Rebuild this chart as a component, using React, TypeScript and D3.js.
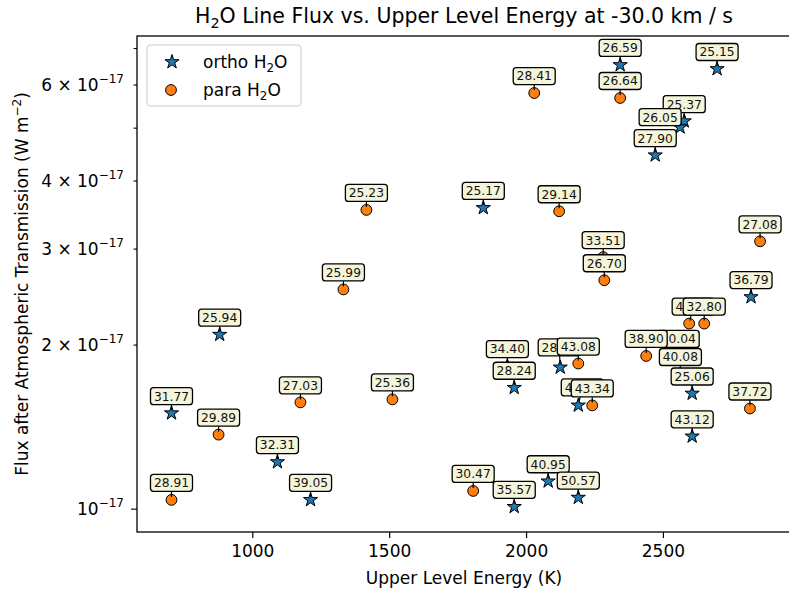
import * as d3 from 'd3';

// ortho H2O lines
const ORTHO_LABEL = ['31.77', '25.94', '32.31', '39.05', '25.17', '28.24', '34.40', '35.57', '40.95', '28.53', '41.62', '50.57', '26.59', '25.15', '27.90', '25.37', '26.05', '36.79', '30.04', '40.08', '25.06', '43.12'];
const ORTHO_E = [703, 879, 1090, 1211, 1842, 1955, 1930, 1955, 2079, 2123, 2189, 2189, 2342, 2696, 2470, 2576, 2561, 2820, 2554, 2562, 2605, 2605];
const ORTHO_FLUX = [1.50, 2.09, 1.22, 1.04, 3.57, 1.67, 1.83, 1.01, 1.125, 1.82, 1.55, 1.05, 6.53, 6.42, 4.46, 5.15, 5.02, 2.45, 1.91, 1.77, 1.63, 1.36];

// para H2O lines
const PARA_LABEL = ['28.91', '29.89', '27.03', '25.99', '25.23', '25.36', '30.47', '28.41', '29.14', '43.08', '43.34', '33.51', '26.70', '26.64', '38.90', '42.17', '32.80', '37.72', '27.08'];
const PARA_E = [703, 875, 1174, 1331, 1415, 1510, 1805, 2028, 2119, 2189, 2240, 2280, 2284, 2342, 2437, 2594, 2649, 2816, 2853];
const PARA_FLUX = [1.04, 1.37, 1.57, 2.53, 3.54, 1.59, 1.08, 5.80, 3.52, 1.85, 1.55, 2.90, 2.63, 5.68, 1.91, 2.19, 2.19, 1.53, 3.10];

const FLUX_UNIT = 1e-17;
const X_TICKS = [1000, 1500, 2000, 2500];
const Y_TICKS = [1, 2, 3, 4, 5, 6, 7];
const Y_TICK_LABELS: Record<number, string> = { 1: '', 2: '2', 3: '3', 4: '4', 6: '6' };

// label boxes that were pushed aside to avoid overlaps
const LABEL_NUDGE: Record<string, [number, number]> = {
  '26.05': [-20, -10],
  '28.53': [-1, -20],
  '41.62': [4, -18],
  '42.17': [4, -17],
};

const W = 789;
const H = 591;
const M = { left: 137, right: 791, top: 36, bottom: 532 };
const FONT = '"DejaVu Sans", sans-serif';
const BLUE = '#1f77b4';
const ORANGE = '#ff7f0e';

const x = d3.scaleLinear().domain([577, 2966]).range([M.left, M.right]);
const y = d3.scaleLog().domain([0.908 * FLUX_UNIT, 7.38 * FLUX_UNIT]).range([M.bottom, M.top]);
const star = d3.symbol(d3.symbolStar, 62)() as string;

type Pt = { label: string; e: number; f: number; kind: 'ortho' | 'para' };

const ortho: Pt[] = ORTHO_LABEL.map((label, i) => ({ label, e: ORTHO_E[i], f: ORTHO_FLUX[i] * FLUX_UNIT, kind: 'ortho' }));
const para: Pt[] = PARA_LABEL.map((label, i) => ({ label, e: PARA_E[i], f: PARA_FLUX[i] * FLUX_UNIT, kind: 'para' }));
const all = [...ortho, ...para];

function Marker({ kind, cx, cy }: { kind: string; cx: number; cy: number }) {
  if (kind === 'ortho') {
    return <path d={star} transform={`translate(${cx},${cy})`} fill={BLUE} stroke="#000" strokeWidth={1} />;
  }
  return <circle cx={cx} cy={cy} r={5.4} fill={ORANGE} stroke="#000" strokeWidth={1} />;
}

function H2O({ size }: { size: number }) {
  return (
    <>
      H<tspan fontSize={size * 0.7} dy={size * 0.22}>2</tspan>
      <tspan dy={-size * 0.22}>O</tspan>
    </>
  );
}

export default function App() {
  const boxW = 42;
  const boxH = 17;
  return (
    <div style={{ position: 'absolute', left: 0, top: 0 }}>
      <svg width={W} height={H} style={{ display: 'block', background: '#fff' }} fontFamily={FONT}>
        {/* title */}
        <text x={464} y={23} textAnchor="middle" fontSize={20.5} fill="#000">
          <H2O size={20.5} /> Line Flux vs. Upper Level Energy at -30.0 km / s
        </text>

        {/* markers */}
        {all.map((d, i) => (
          <Marker key={'m' + i} kind={d.kind} cx={x(d.e)} cy={y(d.f)} />
        ))}

        {/* annotation labels */}
        {all.map((d, i) => {
          const px = x(d.e);
          const py = y(d.f);
          const [dx, dy] = LABEL_NUDGE[d.label] || [0, -17];
          const lx = px + dx;
          const ly = py + dy;
          const ang = Math.atan2(py - ly, px - lx);
          return (
            <g key={'l' + i}>
              <line x1={lx} y1={ly} x2={px - Math.cos(ang) * 3} y2={py - Math.sin(ang) * 3} stroke="#000" strokeWidth={1.2} />
              <rect x={lx - boxW / 2} y={ly - boxH / 2} width={boxW} height={boxH} rx={3} fill="#f5f5dc" stroke="#000" strokeWidth={1.3} />
              <text x={lx} y={ly + 4.4} textAnchor="middle" fontSize={12.3} fill="#111">{d.label}</text>
            </g>
          );
        })}

        {/* spines */}
        <rect x={M.left} y={M.top} width={M.right - M.left} height={M.bottom - M.top} fill="none" stroke="#000" strokeWidth={1.3} />

        {/* x axis */}
        {X_TICKS.map((t) => (
          <g key={'x' + t} transform={`translate(${x(t)},${M.bottom})`}>
            <line y2={6} stroke="#000" strokeWidth={1.2} />
            <text y={25} textAnchor="middle" fontSize={17}>{t}</text>
          </g>
        ))}
        <text x={464} y={584} textAnchor="middle" fontSize={17}>Upper Level Energy (K)</text>

        {/* y axis (log) */}
        {Y_TICKS.map((t) => {
          const yy = y(t * FLUX_UNIT);
          const major = t === 1;
          const lab = Y_TICK_LABELS[t];
          return (
            <g key={'y' + t} transform={`translate(${M.left},${yy})`}>
              <line x2={major ? -6 : -3.4} stroke="#000" strokeWidth={1.1} />
              {lab !== undefined && (
                <text x={-13} y={6} textAnchor="end" fontSize={17}>
                  {lab ? `${lab} \u00d7 10` : '10'}
                  <tspan fontSize={12} dy={-8}>{'\u221217'}</tspan>
                </text>
              )}
            </g>
          );
        })}
        <text transform={`translate(28,${(M.top + M.bottom) / 2}) rotate(-90)`} textAnchor="middle" fontSize={17}>
          Flux after Atmospheric Transmission (W m<tspan fontSize={12} dy={-7}>{'\u22122'}</tspan>
          <tspan dy={7}>)</tspan>
        </text>

        {/* legend */}
        <rect x={147} y={45} width={154} height={61} rx={3} fill="#fff" fillOpacity={0.8} stroke="#ccc" strokeWidth={1} />
        <Marker kind="ortho" cx={172} cy={62} />
        <text x={203} y={68} fontSize={17}>ortho <H2O size={17} /></text>
        <Marker kind="para" cx={171} cy={90} />
        <text x={203} y={96} fontSize={17}>para <H2O size={17} /></text>
      </svg>
    </div>
  );
}
